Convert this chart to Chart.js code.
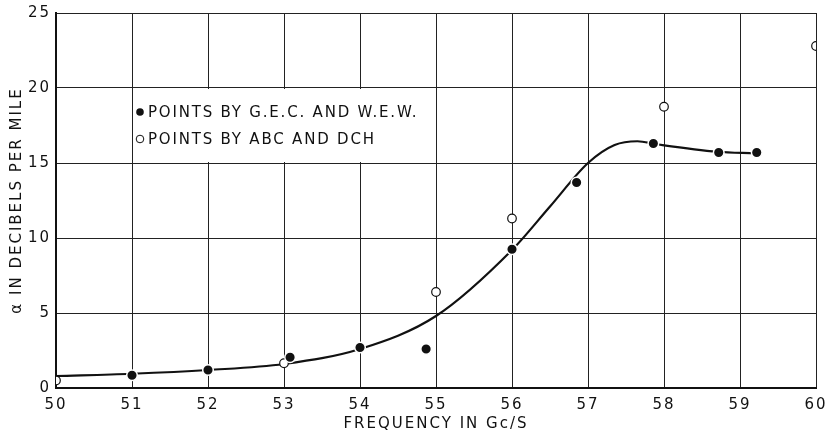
<!DOCTYPE html>
<html>
<head>
<meta charset="utf-8">
<script src="https://cdn.jsdelivr.net/npm/chart.js@4"></script>
<style>
  html, body { margin: 0; padding: 0; background: #fff; }
  #wrap { width: 829px; height: 431px; }
</style>
</head>
<body>
<div id="wrap"><canvas id="c"></canvas></div>
<script>
  "use strict";

  // points by G.E.C. and W.E.W. (filled)
  const gecX = [51, 52, 53.08, 54, 54.87, 56, 56.85, 57.86, 58.72, 59.22];
  const gecY = [0.85, 1.2, 2.05, 2.7, 2.6, 9.25, 13.7, 16.3, 15.7, 15.7];

  // points by ABC and DCH (open)
  const abcX = [50, 53, 55, 56, 58, 60];
  const abcY = [0.5, 1.65, 6.4, 11.3, 18.75, 22.8];

  // hand-drawn curve through the points
  const curveX = [50, 51, 52, 53, 54, 55, 56, 56.5, 57, 57.35, 57.65, 57.9, 58.7, 59.2];
  const curveY = [0.8, 0.95, 1.2, 1.6, 2.6, 4.8, 9.2, 12.1, 15.0, 16.2, 16.45, 16.25, 15.75, 15.65];

  const xTicks = [50, 51, 52, 53, 54, 55, 56, 57, 58, 59, 60];
  const yTicks = [0, 5, 10, 15, 20, 25];

  const legendLabels = ["POINTS BY G.E.C. AND W.E.W.", "POINTS BY ABC AND DCH"];

  const ink = "#111";
  const toXY = (xs, ys) => xs.map((x, i) => ({ x: x, y: ys[i] }));

  // the old lettering is spaced out, so widen all canvas text a bit
  const spacing = {
    id: "spacing",
    beforeDraw(chart) { chart.ctx.letterSpacing = "2px"; },
    afterDraw(chart) { chart.ctx.letterSpacing = "0px"; }
  };

  // white box with the key, sitting in the 51..55 / 15..20 cell
  const keyBox = {
    id: "keyBox",
    beforeDatasetsDraw(chart) {
      const { ctx, scales } = chart;
      const x0 = scales.x.getPixelForValue(51), x1 = scales.x.getPixelForValue(55);
      const y0 = scales.y.getPixelForValue(20), y1 = scales.y.getPixelForValue(15);
      ctx.save();
      ctx.fillStyle = "#fff";
      ctx.fillRect(x0 + 1, y0 + 1, x1 - x0 - 2, y1 - y0 - 2);
      ctx.fillStyle = ink;
      ctx.strokeStyle = ink;
      ctx.font = "15px 'DejaVu Sans'";
      ctx.letterSpacing = "1.8px";
      ctx.textBaseline = "middle";
      const lx = x0 + 8;
      const rows = [y0 + 24, y0 + 51];
      rows.forEach((ry, i) => {
        ctx.beginPath();
        ctx.arc(lx, ry, 3.8, 0, Math.PI * 2);
        if (i === 0) {
          ctx.fill();
        } else {
          ctx.lineWidth = 1;
          ctx.stroke();
        }
        ctx.fillText(legendLabels[i], lx + 8, ry + 1);
      });
      ctx.restore();
    }
  };

  new Chart(document.getElementById("c"), {
    type: "scatter",
    data: {
      datasets: [
        {
          label: legendLabels[0],
          data: toXY(gecX, gecY),
          pointRadius: 5.3,
          pointBackgroundColor: ink,
          pointBorderColor: "#fff",
          pointBorderWidth: 1.5,
          order: 1
        },
        {
          label: legendLabels[1],
          data: toXY(abcX, abcY),
          pointRadius: 4.3,
          pointBackgroundColor: "#fff",
          pointBorderColor: ink,
          pointBorderWidth: 1.2,
          order: 2
        },
        {
          label: "curve",
          data: toXY(curveX, curveY),
          showLine: true,
          pointRadius: 0,
          borderColor: ink,
          borderWidth: 2.2,
          cubicInterpolationMode: "monotone",
          order: 3
        }
      ]
    },
    options: {
      responsive: true,
      maintainAspectRatio: false,
      animation: false,
      layout: { padding: { top: 13, right: 13, left: 0, bottom: 0 } },
      plugins: {
        legend: { display: false },
        tooltip: { enabled: false }
      },
      scales: {
        x: {
          type: "linear",
          min: 50,
          max: 60,
          afterBuildTicks: (axis) => { axis.ticks = xTicks.map(v => ({ value: v })); },
          afterFit: (axis) => {
            axis.height = 43;
            axis.paddingLeft = 0;
            axis.paddingRight = 0;
          },
          ticks: {
            color: ink,
            padding: 8,
            maxRotation: 0,
            font: { family: "'DejaVu Sans'", size: 15 }
          },
          grid: { color: "#222", lineWidth: 1, drawTicks: false },
          border: { color: ink, width: 2 },
          title: {
            display: true,
            text: "FREQUENCY IN Gc/S",
            color: ink,
            padding: { top: 0, bottom: -2 },
            font: { family: "'DejaVu Sans'", size: 15 }
          }
        },
        y: {
          min: 0,
          max: 25,
          afterBuildTicks: (axis) => { axis.ticks = yTicks.map(v => ({ value: v })); },
          afterFit: (axis) => {
            axis.width = 56;
            axis.paddingTop = 0;
            axis.paddingBottom = 0;
          },
          ticks: {
            color: ink,
            padding: 5,
            font: { family: "'DejaVu Sans'", size: 15 }
          },
          grid: { color: "#222", lineWidth: 1, drawTicks: false },
          border: { color: ink, width: 2 },
          title: {
            display: true,
            text: "α IN DECIBELS PER MILE",
            color: ink,
            padding: { top: 8, bottom: 0 },
            font: { family: "'DejaVu Sans'", size: 15 }
          }
        }
      }
    },
    plugins: [spacing, keyBox]
  });
</script>
</body>
</html>
